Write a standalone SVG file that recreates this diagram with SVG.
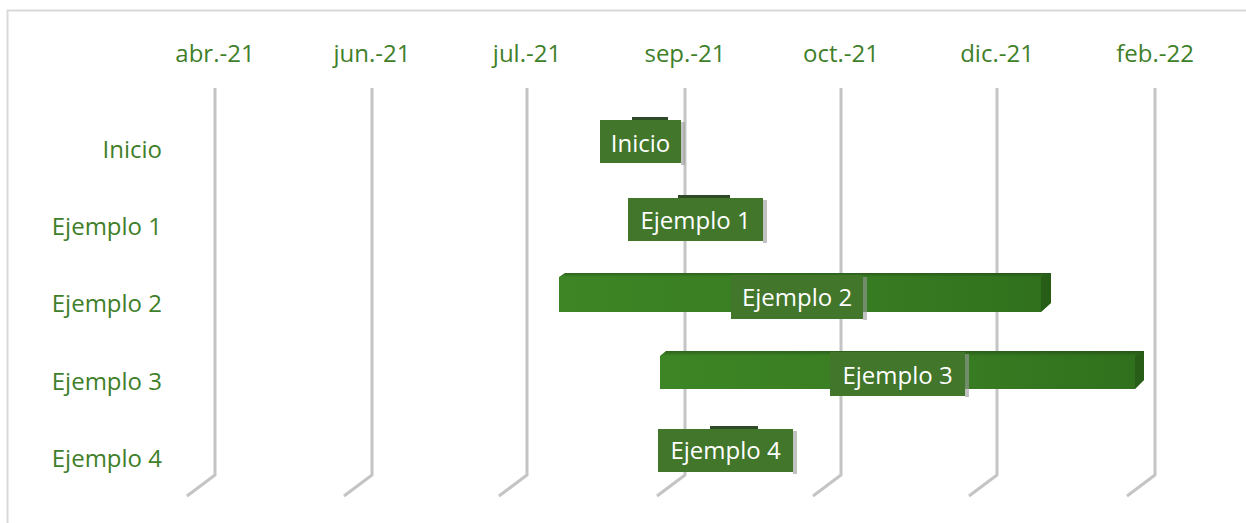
<svg xmlns="http://www.w3.org/2000/svg" width="1246" height="523" viewBox="0 0 1246 523">
<style>
.ax{font-family:"Open Sans","Liberation Sans",sans-serif;font-size:24px;fill:#3f7f2a;}
.row{font-family:"Open Sans","Liberation Sans",sans-serif;font-size:24px;fill:#3f7f2a;text-anchor:end;}
.lbl{font-family:"Open Sans","Liberation Sans",sans-serif;font-size:24px;fill:#ffffff;}
.box{fill:#41762b;}
.shadow{fill:#9a9a9a;opacity:0.6;}
.stub{fill:#2f4a26;}
.grid{fill:none;stroke:#c4c4c4;stroke-width:3;stroke-linejoin:round;}
.bar{fill:url(#barg);}
</style>
<defs>
<linearGradient id="barg" x1="0" y1="0" x2="1" y2="0">
<stop offset="0" stop-color="#3d8525"/>
<stop offset="0.6" stop-color="#387c22"/>
<stop offset="1" stop-color="#30701d"/>
</linearGradient>
<linearGradient id="topg" x1="0" y1="0" x2="0" y2="1">
<stop offset="0" stop-color="#000" stop-opacity="0.25"/>
<stop offset="1" stop-color="#000" stop-opacity="0"/>
</linearGradient>
</defs>
<rect x="0" y="0" width="1246" height="523" fill="#ffffff"/>
<rect x="7.5" y="10.5" width="1300" height="600" fill="none" stroke="#d9d9d9" stroke-width="2"/>
<g id="axis-labels">
<text class="ax" x="215" y="62" text-anchor="middle">abr.-21</text>
<text class="ax" x="372" y="62" text-anchor="middle">jun.-21</text>
<text class="ax" x="527" y="62" text-anchor="middle">jul.-21</text>
<text class="ax" x="685" y="62" text-anchor="middle">sep.-21</text>
<text class="ax" x="841" y="62" text-anchor="middle">oct.-21</text>
<text class="ax" x="997" y="62" text-anchor="middle">dic.-21</text>
<text class="ax" x="1155" y="62" text-anchor="middle">feb.-22</text>
</g>
<g id="row-labels">
<text class="row" x="162" y="158">Inicio</text>
<text class="row" x="162" y="235">Ejemplo 1</text>
<text class="row" x="162" y="312">Ejemplo 2</text>
<text class="row" x="162" y="390">Ejemplo 3</text>
<text class="row" x="162" y="467">Ejemplo 4</text>
</g>
<g id="gridlines">
<path class="grid" d="M215 88 V475 L187 496"/>
<path class="grid" d="M372 88 V475 L344 496"/>
<path class="grid" d="M527 88 V475 L499 496"/>
<path class="grid" d="M685 88 V475 L657 496"/>
<path class="grid" d="M841 88 V475 L813 496"/>
<path class="grid" d="M997 88 V475 L969 496"/>
<path class="grid" d="M1155 88 V475 L1127 496"/>
</g>
<g id="bar-ejemplo2">
<polygon class="bar" points="559,277 565,273 1051,273 1051,303 1041,312 559,312"/>
<polygon fill="url(#topg)" points="559,277 565,273 1051,273 1041,277"/>
<polygon fill="#1f4a12" opacity="0.5" points="1041,277 1051,273 1051,303 1041,312"/>
</g>
<g id="bar-ejemplo3">
<polygon class="bar" points="660,356 666,351 1144,351 1144,380 1135,389 660,389"/>
<polygon fill="url(#topg)" points="660,356 666,351 1144,351 1135,356"/>
<polygon fill="#1f4a12" opacity="0.5" points="1135,356 1144,351 1144,380 1135,389"/>
</g>
<g id="node-inicio">
<rect class="stub" x="632" y="117" width="36" height="4"/>
<rect class="shadow" x="681" y="122" width="4" height="43"/>
<rect class="box" x="600" y="120" width="81" height="43"/>
<text class="lbl" x="640.5" y="152" text-anchor="middle">Inicio</text>
</g>
<g id="node-ejemplo1">
<rect class="stub" x="678" y="195" width="52" height="4"/>
<rect class="shadow" x="763" y="200" width="4" height="43"/>
<rect class="box" x="628" y="198" width="135" height="43"/>
<text class="lbl" x="695.5" y="229" text-anchor="middle">Ejemplo 1</text>
</g>
<g id="node-ejemplo2">
<rect class="shadow" x="863" y="277" width="4" height="43"/>
<rect class="box" x="731" y="275" width="132" height="44"/>
<text class="lbl" x="797" y="306" text-anchor="middle">Ejemplo 2</text>
</g>
<g id="node-ejemplo3">
<rect class="shadow" x="965" y="354" width="4" height="43"/>
<rect class="box" x="830" y="352" width="135" height="44"/>
<text class="lbl" x="897.5" y="384" text-anchor="middle">Ejemplo 3</text>
</g>
<g id="node-ejemplo4">
<rect class="stub" x="710" y="426" width="48" height="4"/>
<rect class="shadow" x="793" y="431" width="4" height="43"/>
<rect class="box" x="658" y="429" width="135" height="43"/>
<text class="lbl" x="725.5" y="459" text-anchor="middle">Ejemplo 4</text>
</g>
</svg>
